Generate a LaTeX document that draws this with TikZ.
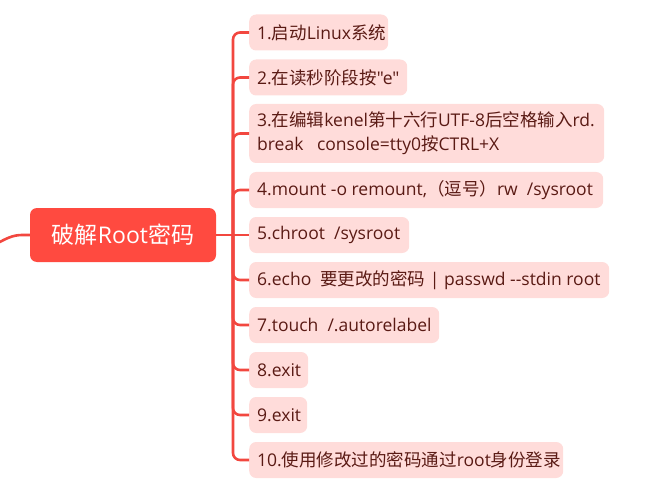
\documentclass[tikz,border=0pt]{standalone}
\usepackage{fontspec}
\newfontfamily\lat{Open Sans}
\newfontfamily\cjk{Noto Sans CJK SC}
\newcommand\zh[1]{{\cjk #1}}
\definecolor{rootred}{HTML}{FF4A40}
\definecolor{linered}{HTML}{F2473F}
\definecolor{itemfill}{HTML}{FFDCDA}
\definecolor{itemtext}{HTML}{5A1A14}
\newcommand\itm[2]{\makebox[#1][l]{#2}}
\tikzset{
  rootbox/.style={fill=rootred, text=white, rounded corners=7pt, minimum width=186pt, minimum height=54pt, inner sep=0pt, font=\lat\fontsize{23}{26}\selectfont},
  itembox/.style={fill=itemfill, text=itemtext, rounded corners=7pt, anchor=west, minimum height=36pt, inner xsep=8pt, inner ysep=0pt, font=\lat\fontsize{17.5}{24}\selectfont, align=left},
  conn/.style={draw=linered, line width=2.6pt, rounded corners=7pt}
}
\begin{document}
\begin{tikzpicture}[x=1pt,y=-1pt]
\useasboundingbox (0,0) rectangle (656,492);
\node[rootbox] (root) at (123,235) {\zh{破解}Root\zh{密码}};
\coordinate (lft) at (-2,243);
\coordinate (tr) at (233,235);
\node[itembox] (i1) at (249,32.5) {\itm{123pt}{1.\zh{启动}Linux\zh{系统}}};
\node[itembox] (i2) at (249,77.5) {\itm{142pt}{2.\zh{在读秒阶段按}"e"}};
\node[itembox, minimum height=59pt] (i3) at (249,133.5) {\itm{339pt}{3.\zh{在编辑}kenel\zh{第十六行}UTF-8\zh{后空格输入}rd.}\\\itm{339pt}{break\ \ \ console=tty0\zh{按}CTRL+X}};
\node[itembox] (i4) at (249,190) {\itm{338pt}{4.mount -o remount,\zh{（逗号）}rw\ \ /sysroot}};
\node[itembox] (i5) at (249,235) {\itm{144pt}{5.chroot\ \ /sysroot}};
\node[itembox] (i6) at (249,280) {\itm{344pt}{6.echo\ \ \zh{要更改的密码} | passwd --stdin root}};
\node[itembox] (i7) at (249,325) {\itm{174pt}{7.touch\ \ /.autorelabel}};
\node[itembox] (i8) at (249,370) {\itm{43pt}{8.exit}};
\node[itembox] (i9) at (249,415) {\itm{42pt}{9.exit}};
\node[itembox] (i10) at (249,460) {\itm{298pt}{10.\zh{使用修改过的密码通过}root\zh{身份登录}}};
\draw[conn] (lft) .. controls (14,234) and (18,235) .. (root.west);
\draw[conn] (root.east) -- (tr);
\foreach \n in {i1,i2,i3,i4,i6,i7,i8,i9,i10}{
  \draw[conn] (tr) |- (\n.west);
}
\draw[conn] (tr) -- (i5.west);
\end{tikzpicture}
\end{document}
